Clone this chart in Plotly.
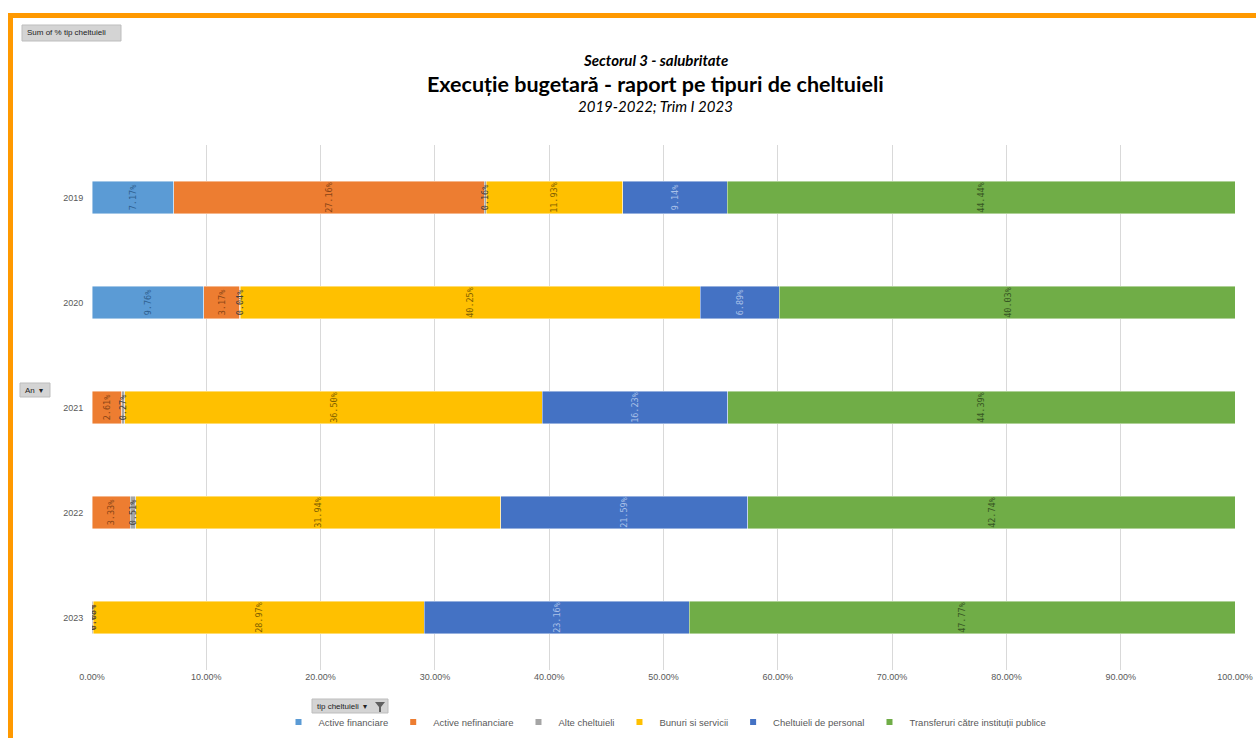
import plotly.graph_objects as go

years = ["2019", "2020", "2021", "2022", "2023"]
series_names = ["Active financiare", "Active nefinanciare", "Alte cheltuieli",
                "Bunuri si servicii", "Cheltuieli de personal",
                "Transferuri către instituții publice"]
active_financiare = [7.17, 9.76, None, None, None]
active_nefinanciare = [27.16, 3.17, 2.61, 3.33, 0.03]
alte_cheltuieli = [0.16, 0.04, 0.27, 0.51, 0.08]
bunuri_servicii = [11.93, 40.25, 36.50, 31.94, 28.97]
cheltuieli_personal = [9.14, 6.89, 16.23, 21.59, 23.16]
transferuri = [44.44, 40.03, 44.39, 42.74, 47.77]
x_ticks = [0, 10, 20, 30, 40, 50, 60, 70, 80, 90, 100]

values = [active_financiare, active_nefinanciare, alte_cheltuieli,
          bunuri_servicii, cheltuieli_personal, transferuri]
colors = ["#5B9BD5", "#ED7D31", "#A5A5A5", "#FFC000", "#4472C4", "#70AD47"]
label_colors = ["#2F5F8F", "#8A4516", "#404040", "#7F6000", "#A9C0E8", "#375623"]

W, H = 1256, 738
ML, MR, MT, MB = 92, 21, 145, 68
PW, PH = W - ML - MR, H - MT - MB


def px(x):
    return (x - ML) / PW


def py(y):
    return (H - MB - y) / PH


fig = go.Figure()
# bar segments (base subplot)
for name, vals, col in zip(series_names, values, colors):
    xs = [None if v is None else v / 100 for v in vals]
    fig.add_trace(go.Bar(
        y=years, x=xs, orientation="h", name=name, showlegend=False,
        marker=dict(color=col, line=dict(color="rgba(255,255,255,0.55)", width=0.8)),
        hoverinfo="skip", xaxis="x", yaxis="y",
    ))
# data labels on an overlaid axis so they sit above all segments
for name, vals, lc in zip(series_names, values, label_colors):
    xs = [None if v is None else v / 100 for v in vals]
    txt = ["" if v is None else f"{v:.2f}%" for v in vals]
    fig.add_trace(go.Bar(
        y=years, x=xs, orientation="h", name=name, showlegend=False,
        marker=dict(color="rgba(0,0,0,0)", line=dict(width=0)),
        text=txt, textposition="inside", insidetextanchor="middle",
        textangle=-90, constraintext="none",
        textfont=dict(family="DejaVu Sans Mono", size=8.5, color=lc),
        hoverinfo="skip", xaxis="x2", yaxis="y",
    ))

# legend entries with small square symbols
for name, col in zip(series_names, colors):
    fig.add_trace(go.Scatter(
        x=[None], y=[None], mode="markers", name=name,
        marker=dict(symbol="square", size=6, color=col),
        showlegend=True,
    ))

shapes = []
# orange frame
shapes.append(dict(type="rect", xref="paper", yref="paper",
                   x0=px(8), x1=px(1262), y0=py(18), y1=py(13),
                   fillcolor="#FF9900", line=dict(width=0), layer="above"))
shapes.append(dict(type="rect", xref="paper", yref="paper",
                   x0=px(8), x1=px(13), y0=py(745), y1=py(13),
                   fillcolor="#FF9900", line=dict(width=0), layer="above"))


def button(x0, y0, x1, y1):
    shapes.append(dict(type="rect", xref="paper", yref="paper",
                       x0=px(x0), x1=px(x1), y0=py(y1), y1=py(y0),
                       fillcolor="#D4D4D4", line=dict(color="#BDBDBD", width=1),
                       layer="above"))


button(22, 25, 121, 41)
button(20, 383, 50, 397)
button(312, 699, 388, 713)

# funnel icon
fx0, fy0 = 375, 702
shapes.append(dict(type="path", xref="paper", yref="paper",
                   path=(f"M {px(fx0)},{py(fy0)} L {px(fx0+10)},{py(fy0)} "
                         f"L {px(fx0+6)},{py(fy0+5)} L {px(fx0+6)},{py(fy0+10)} "
                         f"L {px(fx0+4)},{py(fy0+10)} L {px(fx0+4)},{py(fy0+5)} Z"),
                   fillcolor="#606060", line=dict(width=0), layer="above"))

annotations = [
    dict(text="<b><i>Sectorul 3 - salubritate</i></b>", x=px(655), y=py(60),
         font=dict(family="Lato", size=15, color="#000000")),
    dict(text="<b>Execuție bugetară - raport pe tipuri de cheltuieli</b>", x=px(655), y=py(84),
         font=dict(family="Lato", size=21.5, color="#000000")),
    dict(text="<i>2019-2022; Trim I 2023</i>", x=px(655), y=py(106),
         font=dict(family="Lato", size=15, color="#000000")),
    dict(text="Sum of % tip cheltuieli", x=px(25), y=py(33), xanchor="left",
         font=dict(family="Liberation Sans Narrow, Liberation Sans", size=8, color="#222222")),
    dict(text="An  ▾", x=px(23), y=py(390), xanchor="left",
         font=dict(family="Liberation Sans", size=8, color="#222222")),
    dict(text="tip cheltuieli  ▾", x=px(315), y=py(706), xanchor="left",
         font=dict(family="Liberation Sans Narrow, Liberation Sans", size=8, color="#222222")),
]
for a in annotations:
    a.update(xref="paper", yref="paper", showarrow=False, yanchor="middle")
    a.setdefault("xanchor", "center")

xaxis_common = dict(range=[0, 1], zeroline=False, showline=False, ticks="", fixedrange=True)

fig.update_layout(
    width=W, height=H,
    margin=dict(l=ML, r=MR, t=MT, b=MB, autoexpand=False),
    paper_bgcolor="white", plot_bgcolor="white",
    barmode="stack", bargap=0.686,
    shapes=shapes, annotations=annotations,
    showlegend=True,
    legend=dict(orientation="h", traceorder="normal",
                x=px(665), xanchor="center", y=py(722), yanchor="middle",
                font=dict(family="Liberation Sans", size=9.5, color="#595959"),
                itemwidth=30, tracegroupgap=0, bgcolor="rgba(0,0,0,0)"),
    xaxis=dict(tickvals=[t / 100 for t in x_ticks], tickformat=".2%",
               showgrid=True, gridcolor="#D9D9D9", gridwidth=1,
               tickfont=dict(family="Liberation Sans", size=9, color="#595959"),
               **xaxis_common),
    xaxis2=dict(overlaying="x", matches="x", showgrid=False, showticklabels=False,
                **xaxis_common),
    yaxis=dict(type="category", categoryarray=years, autorange="reversed",
               showgrid=False, zeroline=False, showline=False,
               ticks="outside", ticklen=6, tickcolor="rgba(0,0,0,0)",
               tickfont=dict(family="Liberation Sans", size=9, color="#595959"),
               fixedrange=True),
    font=dict(family="Liberation Sans"),
)

fig.write_html("out.html", config={"displayModeBar": False},
               post_script="document.body.style.margin='0';")
